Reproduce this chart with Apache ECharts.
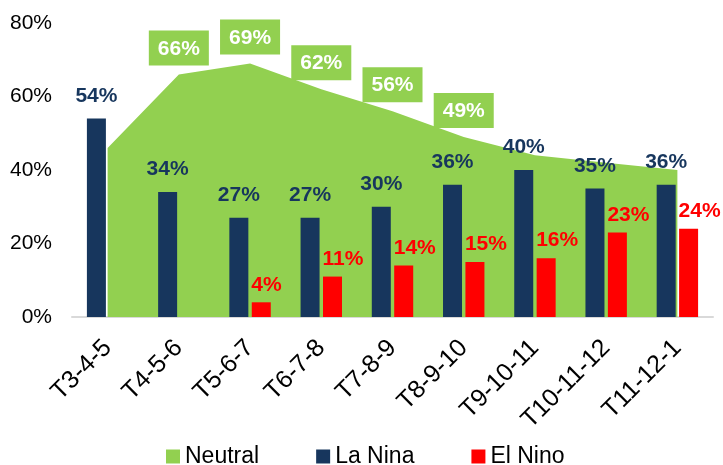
<!DOCTYPE html>
<html>
<head>
<meta charset="utf-8">
<script src="https://cdn.jsdelivr.net/npm/echarts@6/dist/echarts.min.js"></script>
<style>
html,body{margin:0;padding:0;background:#fff;}
#chart{width:723px;height:465px;}
</style>
</head>
<body>
<div id="chart"></div>
<script>
var categories = ['T3-4-5','T4-5-6','T5-6-7','T6-7-8','T7-8-9','T8-9-10','T9-10-11','T10-11-12','T11-12-1'];
var neutral = [46, 66, 69, 62, 56, 49, 44, 42, 40];
var neutralLabelShown = [false, true, true, true, true, true, false, false, false];
var laNina = [54, 34, 27, 27, 30, 36, 40, 35, 36];
var elNino = [null, null, 4, 11, 14, 15, 16, 23, 24];
var yTicks = [0, 20, 40, 60, 80];

var FONT = '"Liberation Sans", Arial, sans-serif';
var chart = echarts.init(document.getElementById('chart'));

var neutralData = neutral.map(function (v, i) {
  return { value: v, label: { show: neutralLabelShown[i] } };
});

chart.setOption({
  animation: false,
  textStyle: { fontFamily: FONT },
  grid: { left: 72, right: 10, top: 23, bottom: 148, containLabel: false },
  legend: {
    left: 161, top: 440,
    itemWidth: 14, itemHeight: 14, itemGap: 57,
    icon: 'rect',
    textStyle: { fontFamily: FONT, fontSize: 23, color: '#000' },
    data: ['Neutral', 'La Nina', 'El Nino']
  },
  xAxis: {
    type: 'category',
    data: categories,
    boundaryGap: true,
    axisTick: { show: false },
    axisLine: { lineStyle: { color: '#d9d9d9', width: 2 } },
    axisLabel: { rotate: 45, margin: 27, fontSize: 25, color: '#000', fontFamily: FONT, interval: 0 }
  },
  yAxis: {
    type: 'value',
    min: yTicks[0], max: yTicks[yTicks.length - 1], interval: 20,
    axisLine: { show: false },
    axisTick: { show: false },
    splitLine: { show: false },
    axisLabel: { formatter: '{value}%', fontSize: 21, color: '#000', margin: 20, fontFamily: FONT }
  },
  series: [
    {
      name: 'Neutral',
      type: 'line',
      data: neutralData,
      symbol: 'circle',
      symbolSize: 0,
      showSymbol: true,
      lineStyle: { width: 0, color: '#92D050' },
      itemStyle: { color: '#92D050' },
      areaStyle: { color: '#92D050', opacity: 1 },
      z: 1,
      label: {
        position: 'top',
        distance: 9,
        formatter: '{c}%',
        color: '#fff',
        fontWeight: 'bold',
        fontSize: 21,
        fontFamily: FONT,
        backgroundColor: '#92D050',
        padding: [8, 9, 6, 9]
      }
    },
    {
      name: 'La Nina',
      type: 'bar',
      data: laNina,
      barWidth: 19,
      barGap: '18%',
      itemStyle: { color: '#17365D' },
      z: 3,
      label: {
        show: true,
        position: 'top',
        distance: 12,
        formatter: '{c}%',
        color: '#17365D',
        fontWeight: 'bold',
        fontSize: 21,
        fontFamily: FONT
      }
    },
    {
      name: 'El Nino',
      type: 'bar',
      data: elNino,
      barWidth: 19,
      barGap: '18%',
      itemStyle: { color: '#FF0000' },
      z: 3,
      label: {
        show: true,
        position: 'top',
        distance: 7,
        align: 'left',
        offset: [-10, 0],
        formatter: '{c}%',
        color: '#FF0000',
        fontWeight: 'bold',
        fontSize: 21,
        fontFamily: FONT
      }
    }
  ]
});
</script>
</body>
</html>
